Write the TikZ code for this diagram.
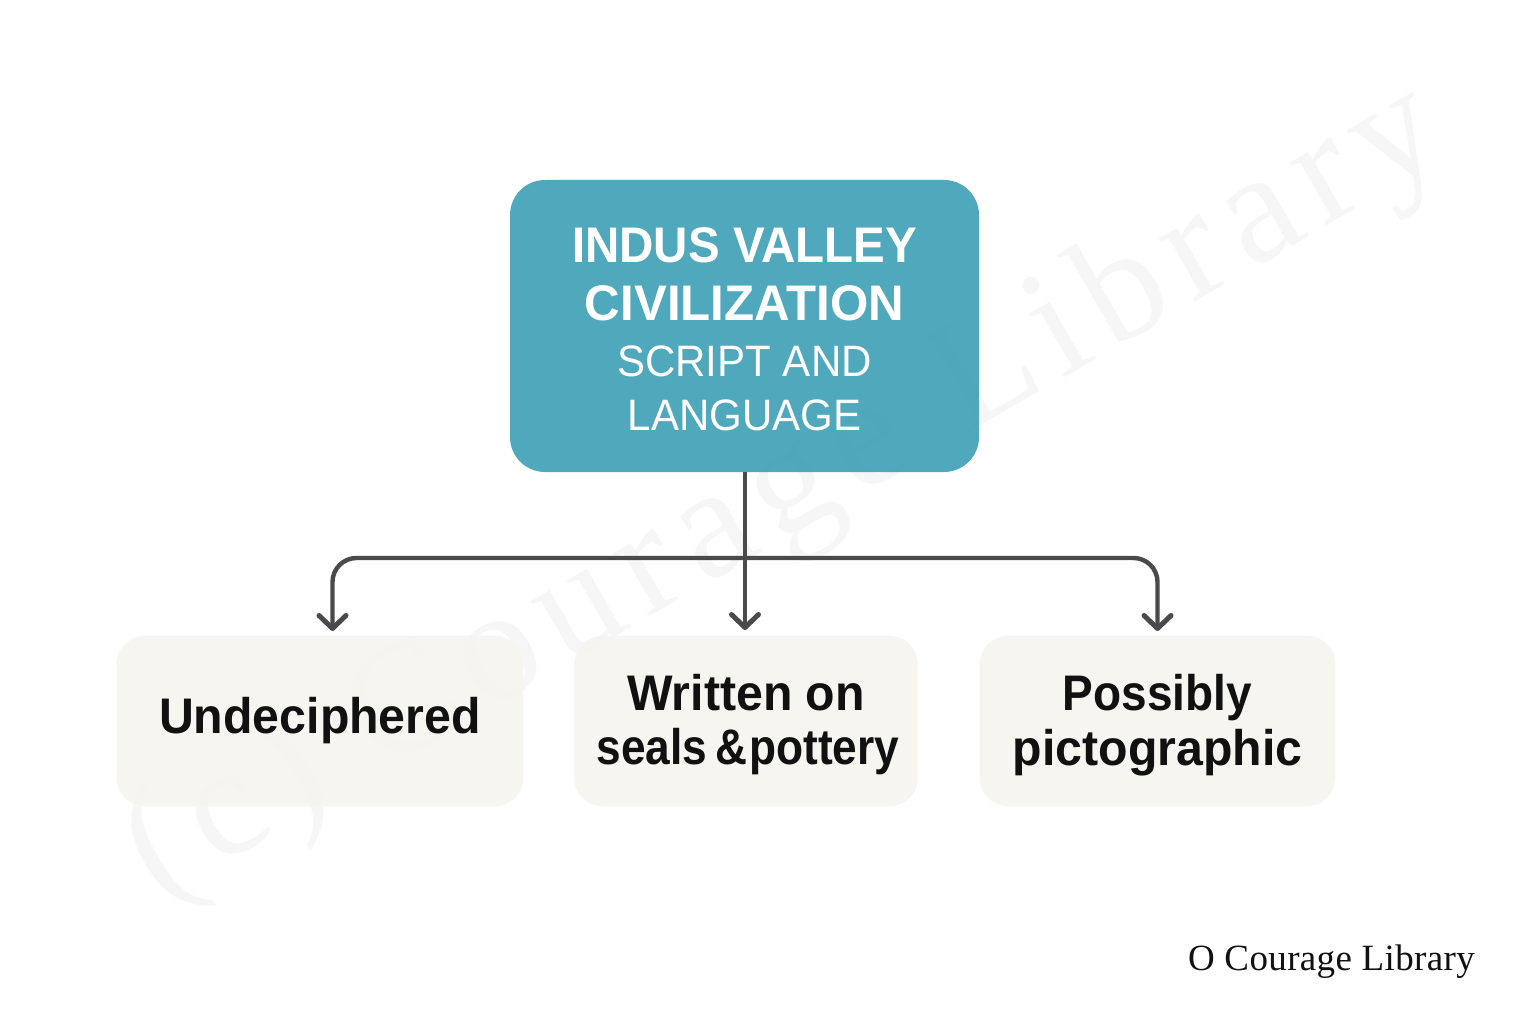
\documentclass[tikz,border=0pt]{standalone}
\usepackage{fontspec}
\setmainfont{Liberation Sans}
\newfontfamily\wmfont[LetterSpace=9]{Liberation Serif}
\newfontfamily\creditfont[LetterSpace=1]{Liberation Serif}
\newfontfamily\boldA[FakeStretch=0.965]{Liberation Sans Bold}
\newfontfamily\boldB[FakeStretch=0.885]{Liberation Sans Bold}
\newfontfamily\boldC[FakeStretch=0.92]{Liberation Sans Bold}
\newfontfamily\titlebold[FakeStretch=0.95]{Liberation Sans Bold}
\newfontfamily\titleboldw[FakeStretch=0.985]{Liberation Sans Bold}
\newfontfamily\titlereg[FakeStretch=0.955]{Liberation Sans}
\usetikzlibrary{arrows.meta}
\definecolor{tealbox}{HTML}{43A2B7}
\definecolor{cream}{HTML}{F5F4EF}
\definecolor{linegray}{HTML}{4A4A4C}
\definecolor{inkblack}{HTML}{111111}
\definecolor{wmgray}{HTML}{B8BDB8}
\newcommand{\fs}[1]{\fontsize{#1}{#1}\selectfont}
\newcommand{\tb}{\titlebold\fs{50}}
\newcommand{\tw}{\titleboldw\fs{50}}
\newcommand{\tr}{\titlereg\fs{44}}
\newcommand{\la}{\boldA\fs{50}}
\newcommand{\lb}{\boldB\fs{50}}
\newcommand{\lc}{\boldC\fs{50}}
\tikzset{
  x=1pt,y=-1pt,
  every node/.style={inner sep=0pt,outer sep=0pt,align=center},
  topbox/.style={fill=tealbox,fill opacity=.93,text opacity=1,rounded corners=35pt,text=white,minimum width=469pt,minimum height=292pt},
  leafbox/.style={fill=cream,fill opacity=.88,text opacity=1,draw=cream!70!white,draw opacity=.8,line width=.8pt,rounded corners=28pt,text=inkblack,minimum height=170pt},
  conn/.style={draw=linegray,line width=4.4pt},
  connarrow/.style={conn,-{Straight Barb[length=13pt,width=27pt,line width=5pt,round]}},
  watermark/.style={font=\wmfont\fs{158},text=wmgray,opacity=.12,rotate=30,anchor=center},
  credit/.style={font=\creditfont\fs{37},text=inkblack,anchor=center}
}
\begin{document}
\begin{tikzpicture}
\useasboundingbox (0,0) rectangle (1536,1024);
\fill[white] (0,0) rectangle (1536,1024);
\node[watermark] (wm) at (785,495) {(c) Courage Library};
\node[topbox] (top) at (744.5,326) {%
  \rule{0pt}{42pt}\tb INDUS VALLEY\\[21pt]\tw CIVILIZATION\\[24pt]
  \tr SCRIPT AND\\[22pt]\tr LANGUAGE};
\node[leafbox,minimum width=406pt] (a) at (320,721) {\la Undeciphered};
\node[leafbox,minimum width=343pt] (b) at (746,721) {\rule{0pt}{44pt}\la Written on\\[16pt]\hspace*{4pt}\lb seals\,\&\hspace{1.5pt}pottery};
\node[leafbox,minimum width=355pt] (c) at (1157.5,721) {\rule{0pt}{44pt}\lc Possibly\\[7pt]\la pictographic};
\coordinate (junction) at (745,558);
\coordinate (atip) at (332.5,631);
\coordinate (btip) at (745,630);
\coordinate (ctip) at (1157.5,631);
\draw[connarrow] (top.south -| junction) -- (btip);
\draw[connarrow,rounded corners=24pt] (junction) -| (atip);
\draw[connarrow,rounded corners=24pt] (junction) -| (ctip);
\node[credit] (cr) at (1331.5,962) {O Courage Library};
\end{tikzpicture}
\end{document}
